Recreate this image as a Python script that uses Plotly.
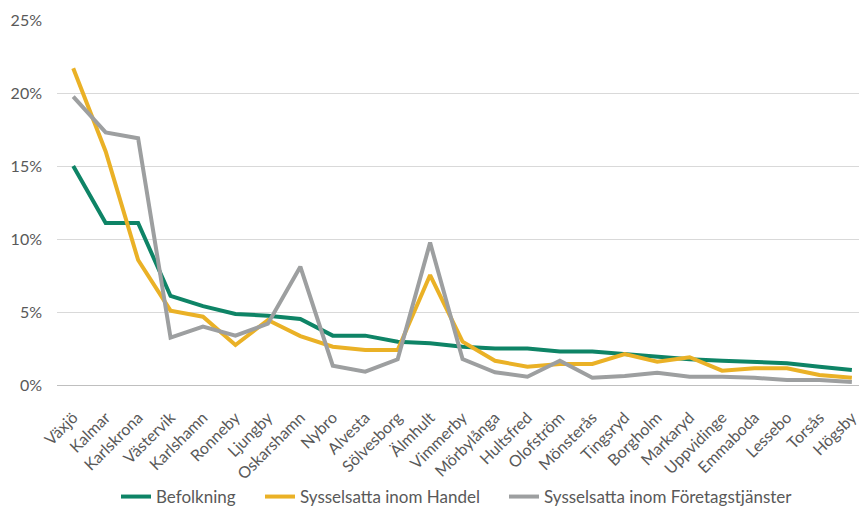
import plotly.graph_objects as go

kommuner = ["Växjö", "Kalmar", "Karlskrona", "Västervik", "Karlshamn", "Ronneby", "Ljungby",
            "Oskarshamn", "Nybro", "Alvesta", "Sölvesborg", "Älmhult", "Vimmerby", "Mörbylånga",
            "Hultsfred", "Olofström", "Mönsterås", "Tingsryd", "Borgholm", "Markaryd",
            "Uppvidinge", "Emmaboda", "Lessebo", "Torsås", "Högsby"]

befolkning = [15.0, 11.1, 11.1, 6.1, 5.4, 4.86, 4.75, 4.52, 3.38, 3.38, 2.97, 2.86, 2.62, 2.5,
              2.5, 2.3, 2.3, 2.12, 1.9, 1.76, 1.66, 1.6, 1.49, 1.25, 1.03]
handel = [21.7, 16.0, 8.56, 5.09, 4.68, 2.74, 4.45, 3.35, 2.62, 2.4, 2.4, 7.53, 2.97, 1.66,
          1.25, 1.44, 1.44, 2.12, 1.6, 1.9, 0.98, 1.14, 1.14, 0.68, 0.5]
foretag = [19.75, 17.3, 16.9, 3.24, 4.0, 3.38, 4.2, 8.1, 1.32, 0.91, 1.76, 9.75, 1.78, 0.87,
           0.57, 1.66, 0.5, 0.62, 0.84, 0.57, 0.57, 0.5, 0.34, 0.34, 0.2]

series = [
    ("Befolkning", befolkning, "#0E8466", "legend", 116),
    ("Sysselsatta inom Handel", handel, "#EAB126", "legend2", 260),
    ("Sysselsatta inom Företagstjänster", foretag, "#9D9FA0", "legend3", 504),
]

L, W, H = 57, 859, 506

fig = go.Figure()
legends = {}
for name, vals, col, lg, px in series:
    fig.add_trace(go.Scatter(x=kommuner, y=vals, name=name, mode="lines", legend=lg,
                             line=dict(color=col, width=4)))
    legends[lg] = dict(orientation="h", xref="container", x=px / W, xanchor="left",
                       yref="container", y=(H - 497) / H, yanchor="middle",
                       font=dict(size=17, color="#595959"),
                       itemwidth=30, bgcolor="rgba(0,0,0,0)")

fig.update_layout(
    width=W, height=H,
    margin=dict(l=L, r=0, t=20, b=121, autoexpand=False),
    paper_bgcolor="white", plot_bgcolor="white",
    font=dict(family="Lato, Open Sans, sans-serif", color="#595959", size=14),
    showlegend=True,
    **legends,
)
fig.update_xaxes(type="category", range=[-0.5, 24.22], tickangle=-45, showgrid=False,
                 showline=True, linecolor="#BFBFBF", linewidth=1, ticks="", automargin=False,
                 ticklabelstandoff=16,
                 tickfont=dict(size=16, color="#595959"))
fig.update_yaxes(range=[0, 25], dtick=5, ticksuffix="%", showgrid=True, gridcolor="#D9D9D9",
                 gridwidth=1, zeroline=False, showline=False, automargin=False,
                 ticklabelstandoff=14,
                 tickfont=dict(size=16, color="#595959"))

fig.write_html("out.html", config={"displayModeBar": False},
               post_script="document.body.style.margin='0';")
